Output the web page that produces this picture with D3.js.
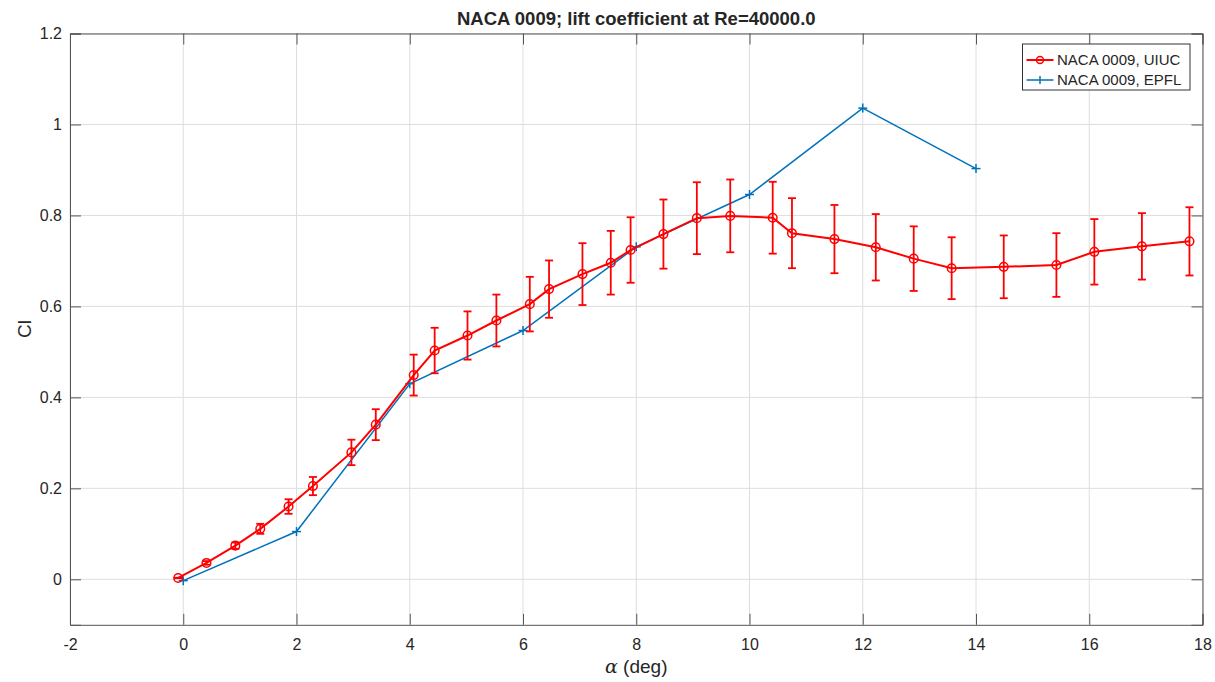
<!DOCTYPE html>
<html>
<head>
<meta charset="utf-8">
<script src="https://cdn.jsdelivr.net/npm/d3@7"></script>
<style>
  body { margin: 0; background: #fff; }
  text { font-family: "Liberation Sans", Arial, Helvetica, sans-serif; fill: #262626; }
</style>
</head>
<body>
<svg id="chart" width="1215" height="682"></svg>
<script>
// UIUC wind-tunnel measurements (angle of attack, lift coefficient, uncertainty)
const alphaUIUC = [-0.09, 0.41, 0.92, 1.36, 1.86, 2.29, 2.97, 3.40, 4.07, 4.44, 5.02, 5.53, 6.12, 6.46, 7.05, 7.55,
                   7.90, 8.48, 9.07, 9.66, 10.41, 10.75, 11.50, 12.23, 12.90, 13.57, 14.49, 15.42, 16.09, 16.93, 17.77];
const clUIUC = [0.003, 0.036, 0.074, 0.111, 0.160, 0.205, 0.279, 0.340, 0.449, 0.503, 0.536, 0.569, 0.605, 0.638, 0.671, 0.696,
                0.724, 0.759, 0.794, 0.799, 0.795, 0.761, 0.748, 0.730, 0.705, 0.684, 0.687, 0.691, 0.720, 0.732, 0.743];
const errUIUC = [0.0005, 0.004, 0.007, 0.011, 0.016, 0.020, 0.028, 0.034, 0.045, 0.050, 0.053, 0.057, 0.060, 0.063, 0.068, 0.070,
                 0.072, 0.076, 0.079, 0.080, 0.079, 0.077, 0.075, 0.073, 0.071, 0.068, 0.069, 0.070, 0.072, 0.073, 0.075];

// EPFL measurements
const alphaEPFL = [0, 2, 4, 6, 8, 10, 12, 14];
const clEPFL = [-0.003, 0.105, 0.430, 0.547, 0.731, 0.846, 1.036, 0.903];

// Axis ticks
const xTicks = [-2, 0, 2, 4, 6, 8, 10, 12, 14, 16, 18];
const xTickLabels = ["-2", "0", "2", "4", "6", "8", "10", "12", "14", "16", "18"];
const yTicks = [0, 0.2, 0.4, 0.6, 0.8, 1.0, 1.2];
const yTickLabels = ["0", "0.2", "0.4", "0.6", "0.8", "1", "1.2"];

const seriesNames = ["NACA 0009, UIUC", "NACA 0009, EPFL"];
const titleText = "NACA 0009; lift coefficient at Re=40000.0";

const red = "#ff0000";
const blue = "#0072bd";
const axisColor = "#555555";
const gridColor = "#dedede";

const svg = d3.select("#chart");
const plot = { left: 70, right: 1202.5, top: 33.5, bottom: 624.8 };

const x = d3.scaleLinear().domain([-2, 18]).range([plot.left, plot.right]);
const y = d3.scaleLinear().domain([-0.1, 1.2]).range([plot.bottom, plot.top]);

// Grid
const grid = svg.append("g");
grid.selectAll("line.gx").data(xTicks).join("line")
  .attr("x1", d => x(d)).attr("x2", d => x(d))
  .attr("y1", plot.top).attr("y2", plot.bottom)
  .attr("stroke", gridColor).attr("stroke-width", 1);
grid.selectAll("line.gy").data(yTicks).join("line")
  .attr("y1", d => y(d)).attr("y2", d => y(d))
  .attr("x1", plot.left).attr("x2", plot.right)
  .attr("stroke", gridColor).attr("stroke-width", 1);

// Data: EPFL line with + markers
const lineE = d3.line().x((d, i) => x(alphaEPFL[i])).y(d => y(d));
svg.append("path").datum(clEPFL)
  .attr("d", lineE).attr("fill", "none")
  .attr("stroke", blue).attr("stroke-width", 1.5);
const plusE = svg.append("g").attr("stroke", blue).attr("stroke-width", 1.5);
clEPFL.forEach((c, i) => {
  const px = x(alphaEPFL[i]), py = y(c);
  plusE.append("line").attr("x1", px - 4.5).attr("x2", px + 4.5).attr("y1", py).attr("y2", py);
  plusE.append("line").attr("x1", px).attr("x2", px).attr("y1", py - 4.5).attr("y2", py + 4.5);
});

// Data: UIUC line with error bars and circle markers
const eb = svg.append("g").attr("stroke", red).attr("stroke-width", 1.8).attr("fill", "none");
clUIUC.forEach((c, i) => {
  const px = x(alphaUIUC[i]);
  const lo = y(c - errUIUC[i]), hi = y(c + errUIUC[i]);
  eb.append("line").attr("x1", px).attr("x2", px).attr("y1", lo).attr("y2", hi);
  eb.append("line").attr("x1", px - 4).attr("x2", px + 4).attr("y1", lo).attr("y2", lo);
  eb.append("line").attr("x1", px - 4).attr("x2", px + 4).attr("y1", hi).attr("y2", hi);
});
const lineU = d3.line().x((d, i) => x(alphaUIUC[i])).y(d => y(d));
svg.append("path").datum(clUIUC)
  .attr("d", lineU).attr("fill", "none")
  .attr("stroke", red).attr("stroke-width", 2);
svg.append("g").selectAll("circle").data(clUIUC).join("circle")
  .attr("cx", (d, i) => x(alphaUIUC[i])).attr("cy", d => y(d)).attr("r", 4.3)
  .attr("fill", "none").attr("stroke", red).attr("stroke-width", 1.5);

// Axes (ticks point inward on all four sides)
const tickLen = 11;
const axB = svg.append("g").attr("transform", `translate(0,${plot.bottom})`)
  .call(d3.axisBottom(x).tickValues(xTicks).tickSize(-tickLen).tickPadding(14)
    .tickFormat((d, i) => xTickLabels[i]));
const axT = svg.append("g").attr("transform", `translate(0,${plot.top})`)
  .call(d3.axisTop(x).tickValues(xTicks).tickSize(-tickLen).tickFormat(""));
const axL = svg.append("g").attr("transform", `translate(${plot.left},0)`)
  .call(d3.axisLeft(y).tickValues(yTicks).tickSize(-tickLen).tickPadding(8)
    .tickFormat((d, i) => yTickLabels[i]));
const axR = svg.append("g").attr("transform", `translate(${plot.right},0)`)
  .call(d3.axisRight(y).tickValues(yTicks).tickSize(-tickLen).tickFormat(""));
[axB, axT, axL, axR].forEach(a => {
  a.select(".domain").attr("stroke", axisColor).attr("stroke-width", 1);
  a.selectAll(".tick line").attr("stroke", axisColor).attr("stroke-width", 1);
  a.selectAll(".tick text").attr("font-size", 16).attr("fill", "#333")
    .attr("font-family", "'Liberation Sans', Arial, sans-serif");
});

// Title and axis labels
svg.append("text").attr("x", (plot.left + plot.right) / 2).attr("y", 25)
  .attr("text-anchor", "middle").attr("font-size", 18.5).attr("font-weight", "bold")
  .attr("fill", "#111").text(titleText);

const xl = svg.append("text").attr("x", (plot.left + plot.right) / 2).attr("y", 673)
  .attr("text-anchor", "middle").attr("font-size", 19).attr("fill", "#333");
xl.append("tspan").attr("font-family", "'DejaVu Serif', 'Liberation Serif', serif")
  .attr("font-style", "italic").text("α");
xl.append("tspan").text(" (deg)");

svg.append("text").attr("transform", "translate(31,329) rotate(-90)")
  .attr("text-anchor", "middle").attr("font-size", 19).attr("fill", "#333").text("Cl");

// Legend
const lg = svg.append("g");
lg.append("rect").attr("x", 1022.5).attr("y", 44).attr("width", 167.5).attr("height", 46)
  .attr("fill", "#fff").attr("stroke", "#333").attr("stroke-width", 1);
const legendRows = [
  { name: seriesNames[0], color: red, marker: "circle", y: 60 },
  { name: seriesNames[1], color: blue, marker: "plus", y: 80 }
];
legendRows.forEach(r => {
  lg.append("line").attr("x1", 1026.5).attr("x2", 1053.5).attr("y1", r.y).attr("y2", r.y)
    .attr("stroke", r.color).attr("stroke-width", r.marker === "circle" ? 2 : 1.5);
  if (r.marker === "circle") {
    lg.append("circle").attr("cx", 1040).attr("cy", r.y).attr("r", 3.5)
      .attr("fill", "none").attr("stroke", r.color).attr("stroke-width", 1.5);
  } else {
    lg.append("line").attr("x1", 1040).attr("x2", 1040).attr("y1", r.y - 4).attr("y2", r.y + 4)
      .attr("stroke", r.color).attr("stroke-width", 1.5);
  }
  lg.append("text").attr("x", 1057).attr("y", r.y + 5).attr("font-size", 15)
    .attr("fill", "#222").text(r.name);
});
</script>
</body>
</html>
